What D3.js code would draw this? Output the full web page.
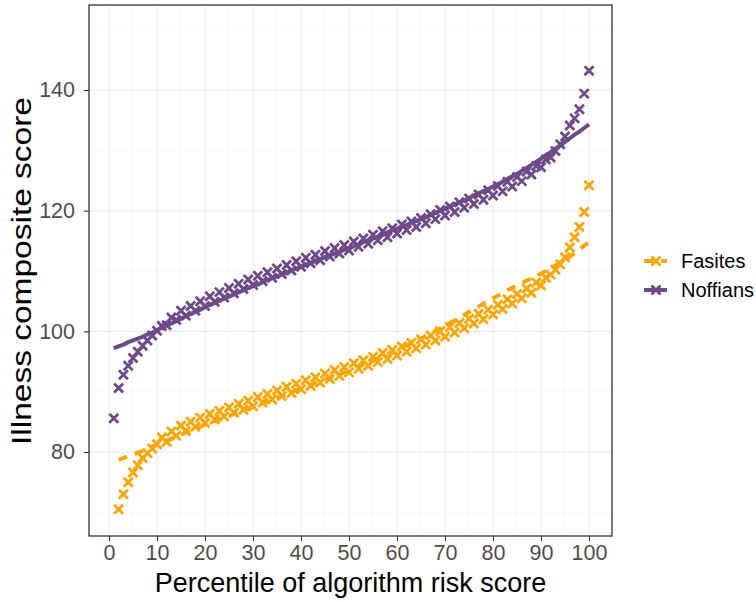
<!DOCTYPE html>
<html lang="en">
<head>
<meta charset="UTF-8">
<title>Illness composite score by risk percentile</title>
<script src="https://cdn.jsdelivr.net/npm/d3@7"></script>
<style>
    body { margin: 0; background: #fff; }
    svg { display: block; font-family: "Liberation Sans", Arial, sans-serif; }
    .grid-major { stroke: #ebebeb; stroke-width: 1.1px; }
    .grid-minor { stroke: #f2f2f2; stroke-width: 0.6px; }
    .axis path { display: none; }
    .axis line { stroke: #333; stroke-width: 1.1px; }
    .axis text { fill: #4d4d4d; font-size: 21.5px; }
    .title { fill: #000; }
    .legend text { fill: #000; font-size: 20px; }
</style>
</head>
<body>
<script>
// percentile bins
const noffPct = d3.range(1, 101);
const fasPct = d3.range(2, 101);

// group means (x markers)
const noffPoints = [85.6, 90.6, 92.8, 94.3, 95.6, 96.6, 97.6, 98.5, 99.3, 100.1,
    100.9, 101.0, 102.3, 101.9, 103.4, 102.6, 104.2, 103.4, 105.0, 104.2,
    105.8, 104.9, 106.5, 105.6, 107.2, 106.3, 107.9, 107.0, 108.6, 107.7,
    109.2, 108.3, 109.8, 108.9, 110.4, 109.5, 111.0, 110.1, 111.6, 110.7,
    112.2, 111.3, 112.7, 111.8, 113.3, 112.4, 113.8, 112.9, 114.3, 113.4,
    114.9, 114.0, 115.4, 114.5, 116.0, 115.1, 116.6, 115.6, 117.1, 116.2,
    117.7, 116.8, 118.2, 117.3, 118.8, 117.9, 119.4, 118.6, 120.1, 119.2,
    120.7, 119.8, 121.4, 120.5, 122.0, 121.1, 122.7, 121.8, 123.4, 122.5,
    124.1, 123.2, 124.8, 124.0, 125.6, 124.9, 126.5, 126.0, 127.4, 127.2,
    128.5, 128.8, 129.9, 131.0, 132.3, 134.1, 135.3, 136.8, 139.4, 143.2];

const fasPoints = [70.5, 73.0, 75.0, 76.6, 77.8, 79.0, 79.8, 80.6, 81.3,
    82.4, 81.7, 83.4, 82.7, 84.4, 83.5, 85.0, 84.2, 85.7, 84.8,
    86.3, 85.4, 86.8, 85.9, 87.4, 86.5, 88.0, 87.0, 88.5, 87.6,
    89.1, 88.2, 89.6, 88.7, 90.2, 89.3, 90.8, 89.8, 91.3, 90.4,
    91.9, 91.0, 92.4, 91.5, 93.0, 92.1, 93.6, 92.6, 94.1, 93.2,
    94.7, 93.8, 95.2, 94.3, 95.8, 94.9, 96.4, 95.4, 96.9, 96.0,
    97.5, 96.6, 98.1, 97.2, 98.7, 97.8, 99.3, 98.5, 100.0, 99.1,
    100.7, 99.8, 101.4, 100.5, 102.1, 101.3, 102.9, 102.0, 103.6, 102.8,
    104.4, 103.7, 105.3, 104.6, 106.2, 105.5, 107.1, 106.4, 108.1, 107.6,
    108.9, 109.4, 110.2, 111.1, 112.3, 113.9, 115.6, 117.3, 119.8, 124.2];

// smoothed trend (line)
const noffLine = [97.2, 97.5, 97.8, 98.2, 98.5, 98.8, 99.1, 99.5, 99.8, 100.2,
    100.6, 101.0, 101.3, 101.7, 102.1, 102.5, 102.9, 103.2, 103.6, 104.0,
    104.4, 104.7, 105.1, 105.4, 105.8, 106.1, 106.5, 106.8, 107.2, 107.5,
    107.8, 108.1, 108.5, 108.8, 109.1, 109.4, 109.7, 110.1, 110.4, 110.7,
    111.0, 111.3, 111.7, 112.0, 112.3, 112.6, 112.9, 113.2, 113.5, 113.8,
    114.1, 114.4, 114.8, 115.1, 115.4, 115.7, 116.0, 116.4, 116.7, 117.0,
    117.3, 117.6, 118.0, 118.3, 118.6, 118.9, 119.3, 119.6, 120.0, 120.3,
    120.7, 121.0, 121.4, 121.7, 122.1, 122.5, 122.9, 123.2, 123.6, 124.0,
    124.4, 124.8, 125.3, 125.7, 126.1, 126.6, 127.1, 127.6, 128.1, 128.6,
    129.2, 129.7, 130.3, 130.8, 131.4, 132.0, 132.6, 133.1, 133.7, 134.3];

const fasLine = [78.7, 79.0, 79.3, 79.6, 79.9, 80.2, 80.6, 80.9, 81.2,
    81.5, 81.9, 82.2, 82.6, 82.9, 83.2, 83.5, 83.9, 84.2, 84.5,
    84.8, 85.1, 85.4, 85.7, 86.0, 86.3, 86.6, 86.9, 87.2, 87.5,
    87.8, 88.1, 88.4, 88.7, 89.0, 89.3, 89.6, 89.9, 90.2, 90.5,
    90.8, 91.1, 91.4, 91.7, 92.0, 92.3, 92.6, 92.9, 93.2, 93.5,
    93.8, 94.2, 94.5, 94.8, 95.1, 95.5, 95.8, 96.2, 96.5, 96.9,
    97.3, 97.7, 98.0, 98.4, 98.8, 99.2, 99.6, 100.1, 100.5, 100.9,
    101.4, 101.8, 102.3, 102.7, 103.2, 103.7, 104.1, 104.6, 105.0, 105.5,
    105.9, 106.3, 106.8, 107.2, 107.6, 108.0, 108.4, 108.8, 109.2, 109.6,
    110.0, 110.5, 110.9, 111.4, 111.8, 112.4, 113.0, 113.6, 114.2, 114.8];

const groups = ["Fasites", "Noffians"];
const colors = ["#ffa500", "#6f4a8b"];
const xTicks = d3.range(0, 101, 10);
const yTicks = [80, 100, 120, 140];

const width = 756, height = 602;
const margins = {top: 5, left: 89, right: 144, bottom: 66};

const svg = d3.select("body").append("svg")
    .attr("width", width)
    .attr("height", height);

const xScale = d3.scaleLinear()
    .domain([-4.17, 104.79])
    .range([margins.left, width - margins.right]);
const yScale = d3.scaleLinear()
    .domain([66.08, 154.09])
    .range([height - margins.bottom, margins.top]);

// grid
const xMinor = d3.range(5, 101, 10);
const yMinor = [70, 90, 110, 130, 150];
const grid = svg.append("g");
grid.selectAll(".xm").data(xMinor).enter().append("line")
    .attr("class", "grid-minor")
    .attr("x1", d => xScale(d)).attr("x2", d => xScale(d))
    .attr("y1", margins.top).attr("y2", height - margins.bottom);
grid.selectAll(".ym").data(yMinor).enter().append("line")
    .attr("class", "grid-minor")
    .attr("y1", d => yScale(d)).attr("y2", d => yScale(d))
    .attr("x1", margins.left).attr("x2", width - margins.right);
grid.selectAll(".xM").data(xTicks).enter().append("line")
    .attr("class", "grid-major")
    .attr("x1", d => xScale(d)).attr("x2", d => xScale(d))
    .attr("y1", margins.top).attr("y2", height - margins.bottom);
grid.selectAll(".yM").data(yTicks).enter().append("line")
    .attr("class", "grid-major")
    .attr("y1", d => yScale(d)).attr("y2", d => yScale(d))
    .attr("x1", margins.left).attr("x2", width - margins.right);

const cross = "M-4.5,-4.5L4.5,4.5M4.5,-4.5L-4.5,4.5";

const series = [
    {name: groups[0], color: colors[0], pct: fasPct, pts: fasPoints, line: fasLine, dash: "9,8"},
    {name: groups[1], color: colors[1], pct: noffPct, pts: noffPoints, line: noffLine, dash: null}
];

const lineGen = d3.line()
    .x(d => xScale(d[0]))
    .y(d => yScale(d[1]));

series.forEach(s => {
    const g = svg.append("g");
    g.selectAll("path.pt")
        .data(s.pct.map((p, i) => [p, s.pts[i]]))
        .enter()
        .append("path")
        .attr("d", cross)
        .attr("transform", d => `translate(${xScale(d[0])},${yScale(d[1])})`)
        .attr("stroke", s.color)
        .attr("stroke-width", 2.8)
        .attr("fill", "none");
    g.append("path")
        .attr("d", lineGen(s.pct.map((p, i) => [p, s.line[i]])))
        .attr("stroke", s.color)
        .attr("stroke-width", 4)
        .attr("stroke-dasharray", s.dash)
        .attr("fill", "none");
});

// panel border
svg.append("rect")
    .attr("x", margins.left).attr("y", margins.top)
    .attr("width", width - margins.right - margins.left)
    .attr("height", height - margins.bottom - margins.top)
    .attr("fill", "none").attr("stroke", "#333").attr("stroke-width", 1.3);

// axes
svg.append("g").attr("class", "axis")
    .attr("transform", `translate(0,${height - margins.bottom})`)
    .call(d3.axisBottom(xScale).tickValues(xTicks).tickSize(5).tickPadding(4));
svg.append("g").attr("class", "axis")
    .attr("transform", `translate(${margins.left},0)`)
    .call(d3.axisLeft(yScale).tickValues(yTicks).tickSize(5).tickPadding(9));

svg.append("text").attr("class", "title")
    .attr("x", (margins.left + width - margins.right) / 2)
    .attr("y", 592)
    .attr("text-anchor", "middle")
    .style("font-size", "27px")
    .text("Percentile of algorithm risk score");
svg.append("text").attr("class", "title")
    .attr("transform", "translate(31,271) rotate(-90)")
    .attr("text-anchor", "middle")
    .attr("textLength", 348)
    .attr("lengthAdjust", "spacingAndGlyphs")
    .style("font-size", "27px")
    .text("Illness composite score");

// legend
const legend = svg.append("g").attr("class", "legend")
    .selectAll("g")
    .data(series)
    .enter()
    .append("g")
    .attr("transform", (d, i) => `translate(644,${261 + i * 29})`);
legend.append("line")
    .attr("x1", 0).attr("x2", 23)
    .attr("stroke", d => d.color)
    .attr("stroke-width", 4)
    .attr("stroke-dasharray", d => d.dash);
legend.append("path")
    .attr("d", cross)
    .attr("transform", "translate(12,0)")
    .attr("stroke", d => d.color)
    .attr("stroke-width", 2.8)
    .attr("fill", "none");
legend.append("text")
    .attr("x", 37)
    .attr("y", 7)
    .text(d => d.name);
</script>
</body>
</html>
